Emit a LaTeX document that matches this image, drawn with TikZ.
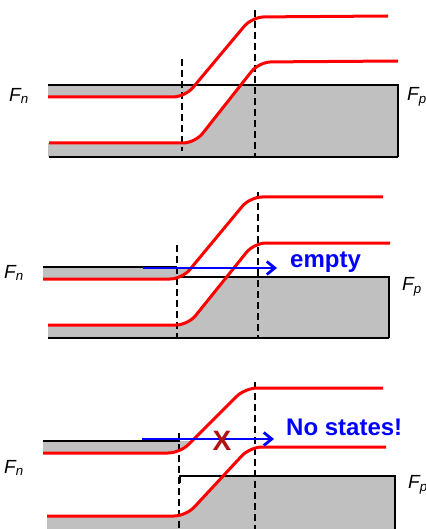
\documentclass[tikz,border=0pt]{standalone}
\usepackage{fontspec}
\setmainfont{Liberation Sans}
\usetikzlibrary{arrows.meta}
\definecolor{bandgray}{RGB}{192,192,192}
\definecolor{xred}{RGB}{176,18,18}
\begin{document}
\begin{tikzpicture}[x=1pt,y=-1pt,
  redc/.style={draw=red,line width=3pt,rounded corners=12pt},
  gapfill/.style={fill=white,rounded corners=12pt},
  bandfill/.style={fill=bandgray},
  edgeline/.style={draw=black,line width=1.8pt},
  vdash/.style={draw=black,line width=1.8pt,dash pattern=on 7pt off 4pt},
  barrow/.style={draw=blue,line width=2.8pt,-{Straight Barb[length=8pt,width=13pt]}},
  flab/.style={font=\fontsize{19}{22}\selectfont\itshape,inner sep=0pt,anchor=west},
  bigtxt/.style={font=\fontsize{24}{28}\selectfont\bfseries,text=blue,inner sep=0pt,anchor=base west}]
\useasboundingbox (0,0) rectangle (425,529);

% ---------- panel 1 ----------
\fill[bandfill] (48,85) rectangle (398,157);
\fill[gapfill] (30,97) -- (185,97) -- (252,17) -- (410,16) -- (410,61) -- (259,62) -- (195,143) -- (30,143) -- cycle;
\draw[edgeline] (48,85) -- (398,85) -- (398,157);
\draw[edgeline] (49,157) -- (398,157);
\draw[vdash] (182,59) -- (182,151);
\draw[vdash] (255,10) -- (255,157);
\draw[redc] (48,97) -- (185,97) -- (252,17) -- (388,16);
\draw[redc] (49,143) -- (195,143) -- (259,62) -- (398,61);
\node[flab] (fn1) at (9,96) {F\textsubscript{n}};
\node[flab] (fp1) at (407,97) {F\textsubscript{p}};

% ---------- panel 2 ----------
\fill[bandfill] (43,267) -- (190,267) -- (190,277) -- (389,277) -- (389,338) -- (48,338) -- (48,300) -- (43,300) -- cycle;
\fill[gapfill] (30,279) -- (182,279) -- (250,197) -- (400,197) -- (400,243) -- (254,243) -- (188,325) -- (30,325) -- cycle;
\draw[edgeline] (43,267) -- (177,267);
\draw[edgeline] (177,277) -- (389,277) -- (389,338);
\draw[edgeline] (48,338) -- (389,338);
\draw[vdash] (177,245) -- (177,338);
\draw[vdash] (258,192) -- (258,338);
\draw[redc] (43,279) -- (182,279) -- (250,197) -- (383,197);
\draw[redc] (48,325) -- (188,325) -- (254,243) -- (390,243);
\coordinate (a2s) at (143,268);
\coordinate (a2e) at (277,268);
\draw[barrow] (a2s) -- (a2e);
\node[bigtxt] (empty) at (290,267) {empty};
\node[flab] (fn2) at (4,273) {F\textsubscript{n}};
\node[flab] (fp2) at (402,287) {F\textsubscript{p}};

% ---------- panel 3 ----------
\fill[bandfill] (43,441) -- (192,441) -- (192,476) -- (395,476) -- (395,535) -- (47,535) -- (47,480) -- (43,480) -- cycle;
\fill[gapfill] (30,453) -- (180,453) -- (245,388) -- (400,388) -- (400,447) -- (250,447) -- (186,516) -- (30,516) -- cycle;
\draw[edgeline] (43,441) -- (180,441);
\draw[edgeline] (180,483) -- (180,476) -- (395,476) -- (395,535);
\draw[vdash] (179,433) -- (179,535);
\draw[vdash] (255,382) -- (255,535);
\draw[redc] (43,453) -- (180,453) -- (245,388) -- (383,388);
\draw[redc] (47,516) -- (186,516) -- (250,447) -- (386,447);
\coordinate (a3s) at (142,439);
\coordinate (a3e) at (274,439);
\draw[barrow] (a3s) -- (a3e);
\node[font=\fontsize{28}{30}\selectfont\bfseries,text=xred,inner sep=0pt] (xmark) at (222,441) {X};
\node[bigtxt] (nostates) at (286,435) {No states!};
\node[flab] (fn3) at (4,468) {F\textsubscript{n}};
\node[flab] (fp3) at (408,485) {F\textsubscript{p}};
\end{tikzpicture}
\end{document}
